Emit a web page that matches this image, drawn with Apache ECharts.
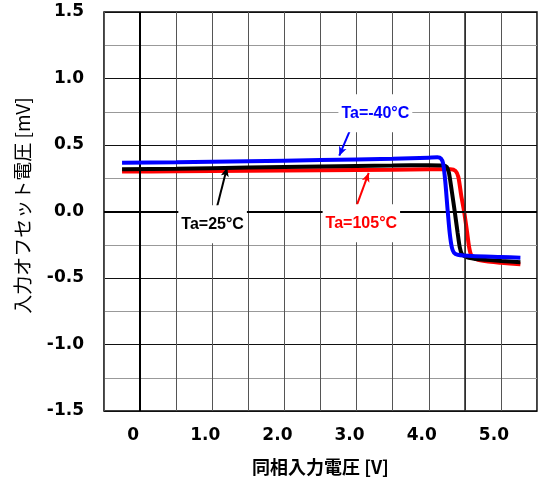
<!DOCTYPE html>
<html>
<head>
<meta charset="utf-8">
<script src="https://cdn.jsdelivr.net/npm/echarts@6/dist/echarts.min.js"></script>
<style>
  html, body { margin: 0; padding: 0; background: #fff; }
  #chart { width: 540px; height: 483px; }
</style>
</head>
<body>
<div id="chart"></div>
<script>
// Input offset voltage vs. common-mode input voltage at three temperatures
const xTicks = [0, 1, 2, 3, 4, 5];
const yTicks = [-1.5, -1.0, -0.5, 0.0, 0.5, 1.0, 1.5];

const vinNeg40 = [-0.25, 0.5, 1.5, 2.5, 3.5, 4.0, 4.12, 4.17, 4.20, 4.23, 4.26, 4.29, 4.32, 4.35, 4.40, 4.6, 5.0, 5.27];
const vosNeg40 = [0.367, 0.370, 0.378, 0.387, 0.397, 0.405, 0.407, 0.398, 0.36, 0.22, 0.02, -0.16, -0.27, -0.31, -0.325, -0.335, -0.342, -0.347];

const vin25 = [-0.25, 0.5, 1.5, 2.5, 3.5, 4.0, 4.20, 4.25, 4.28, 4.32, 4.36, 4.40, 4.43, 4.46, 4.52, 4.7, 5.0, 5.27];
const vos25 = [0.317, 0.322, 0.330, 0.338, 0.345, 0.348, 0.346, 0.335, 0.29, 0.15, 0.0, -0.16, -0.27, -0.32, -0.342, -0.36, -0.372, -0.382];

const vin105 = [-0.25, 0.5, 1.5, 2.5, 3.5, 4.0, 4.30, 4.37, 4.41, 4.45, 4.49, 4.53, 4.56, 4.59, 4.66, 4.8, 5.0, 5.27];
const vos105 = [0.300, 0.302, 0.306, 0.310, 0.314, 0.317, 0.318, 0.305, 0.26, 0.12, 0.0, -0.15, -0.27, -0.33, -0.358, -0.375, -0.385, -0.397];

// Callout text positions and arrow [from, to] points, in data units
const labelNeg40 = { text: 'Ta=-40°C', at: [3.26, 0.738], arrow: [[2.96, 0.675], [2.76, 0.42]] };
const label25 = { text: 'Ta=25°C', at: [1.005, -0.096], arrow: [[1.055, 0.011], [1.205, 0.33]] };
const label105 = { text: 'Ta=105°C', at: [3.066, -0.089], arrow: [[2.996, 0.036], [3.168, 0.29]] };

const zip = (xs, ys) => xs.map((x, i) => [x, ys[i]]);

function callout(lbl, color) {
  return {
    markLine: {
      silent: true,
      symbol: ['none', 'arrow'],
      symbolSize: [6, 9],
      label: { show: false },
      lineStyle: { color: color, width: 2, type: 'solid' },
      data: [[{ coord: lbl.arrow[0] }, { coord: lbl.arrow[1] }]]
    },
    markPoint: {
      silent: true,
      symbol: 'rect',
      symbolSize: 1,
      itemStyle: { color: 'rgba(0,0,0,0)' },
      label: {
        show: true,
        position: 'inside',
        formatter: lbl.text,
        color: color,
        fontFamily: 'Liberation Sans, Arial, sans-serif',
        fontWeight: 'bold',
        fontSize: 16,
        backgroundColor: '#fff',
        padding: [11, 3]
      },
      data: [{ coord: lbl.at }]
    }
  };
}

const chart = echarts.init(document.getElementById('chart'), null, { renderer: 'canvas' });

const tickFont = { fontFamily: 'DejaVu Sans, sans-serif', fontWeight: 'bold', fontSize: 17, color: '#000' };

const curve = (name, xs, ys, color, z, lbl) => Object.assign({
  name: name, type: 'line', z: z,
  data: zip(xs, ys), showSymbol: false,
  smooth: 0.25,
  lineStyle: { color: color, width: 4 }
}, callout(lbl, color));

chart.setOption({
  animation: false,
  backgroundColor: '#fff',
  grid: {
    left: 104, top: 12, right: -4, bottom: 72,
    show: true, borderColor: '#000', borderWidth: 1.5, backgroundColor: 'transparent'
  },
  xAxis: {
    type: 'value',
    min: -0.5, max: 5.5, interval: 0.5,
    axisLine: { show: false },
    axisTick: { show: false },
    splitLine: { show: true, lineStyle: { color: '#555', width: 1 } },
    axisLabel: Object.assign({}, tickFont, {
      margin: 16,
      padding: [0, 14, 0, 0],
      showMinLabel: true, showMaxLabel: true,
      formatter: v => {
        if (Math.abs(v - Math.round(v)) > 1e-6) return '';
        const r = Math.round(v);
        if (!xTicks.includes(r)) return '';
        return r === 0 ? '0' : r.toFixed(1);
      }
    }),
    name: '同相入力電圧 [V]',
    nameLocation: 'middle',
    nameGap: 47,
    nameTextStyle: { fontFamily: 'Noto Sans CJK JP, sans-serif', fontWeight: 'bold', fontSize: 18, color: '#000' }
  },
  yAxis: {
    type: 'value',
    min: yTicks[0], max: yTicks[yTicks.length - 1], interval: 0.5,
    axisLine: { show: false },
    axisTick: { show: false },
    minorTick: { show: false, splitNumber: 2 },
    splitLine: { show: true, lineStyle: { color: '#111', width: 1 } },
    minorSplitLine: { show: true, lineStyle: { color: '#999', width: 1 } },
    axisLabel: Object.assign({}, tickFont, {
      margin: 20,
      formatter: v => v.toFixed(1)
    }),
    name: '入力オフセット電圧 [mV]',
    nameLocation: 'middle',
    nameGap: 72,
    nameTextStyle: { fontFamily: 'Noto Sans CJK JP, sans-serif', fontWeight: 'normal', fontSize: 19, color: '#000', padding: [0, 0, 0, 12] }
  },
  series: [
    {
      // reference lines at zero and at 4.5 V
      type: 'line', data: [], z: 1, silent: true,
      markLine: {
        silent: true, symbol: 'none', label: { show: false },
        lineStyle: { color: '#000', width: 2, type: 'solid' },
        data: [{ xAxis: 0 }, { yAxis: 0 }, { xAxis: 4.5, lineStyle: { width: 1.5, color: '#222' } }]
      }
    },
    curve('Ta=105°C', vin105, vos105, '#ff0000', 3, label105),
    curve('Ta=25°C', vin25, vos25, '#000000', 4, label25),
    curve('Ta=-40°C', vinNeg40, vosNeg40, '#0000ff', 5, labelNeg40)
  ]
});
</script>
</body>
</html>
